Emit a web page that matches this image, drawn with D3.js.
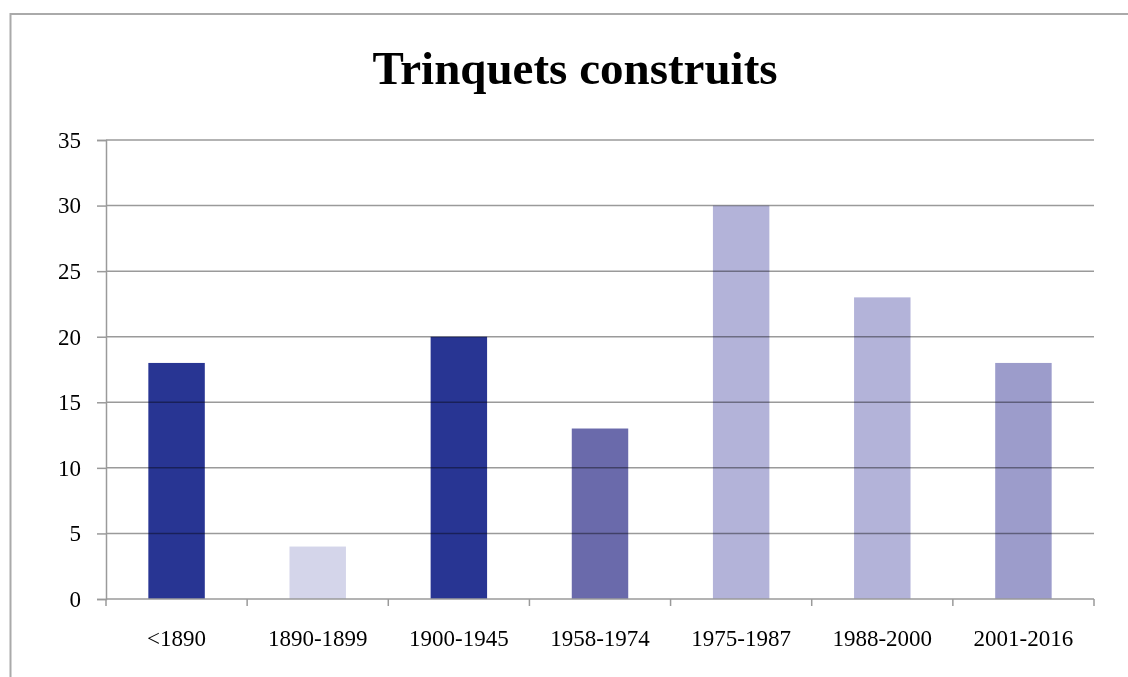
<!DOCTYPE html>
<html>
<head>
<meta charset="utf-8">
<script src="https://cdn.jsdelivr.net/npm/d3@7"></script>
<style>
  body { margin: 0; background: #fff; }
  svg { display: block; font-family: "Liberation Serif", "Times New Roman", serif; }
</style>
</head>
<body>
<div id="chart"></div>
<script>
var categories = ["<1890", "1890-1899", "1900-1945", "1958-1974", "1975-1987", "1988-2000", "2001-2016"];
var values = [18, 4, 20, 13, 30, 23, 18];
var barColors = ["#283593", "#d4d5ea", "#283593", "#6a6aab", "#b3b3d9", "#b3b3d9", "#9c9ccb"];
var yTicks = [0, 5, 10, 15, 20, 25, 30, 35];

var margin = {top: 140, left: 106},
    width = 988,
    height = 459;

var svg = d3.select("#chart")
  .append("svg")
    .attr("width", 1128)
    .attr("height", 677);

// outer frame
svg.append("rect")
  .attr("x", 10.5).attr("y", 14)
  .attr("width", 1130).attr("height", 680)
  .attr("fill", "none")
  .attr("stroke", "#aaa")
  .attr("stroke-width", 2);

svg.append("text")
  .attr("x", 575)
  .attr("y", 84)
  .attr("text-anchor", "middle")
  .style("font-size", "47px")
  .style("font-weight", "bold")
  .text("Trinquets construits");

var g = svg.append("g")
  .attr("transform", "translate(" + margin.left + "," + margin.top + ")");

var x = d3.scaleBand()
  .domain(categories)
  .range([0, width])
  .paddingInner(0.6)
  .paddingOuter(0.3);

var y = d3.scaleLinear()
  .domain([0, 35])
  .range([height, 0]);

// bars
g.selectAll("rect.bar")
  .data(values)
  .enter()
  .append("rect")
    .attr("class", "bar")
    .attr("x", function(d, i) { return x(categories[i]); })
    .attr("y", function(d) { return y(d); })
    .attr("width", x.bandwidth())
    .attr("height", function(d) { return height - y(d); })
    .attr("fill", function(d, i) { return barColors[i]; });

// gridlines over bars
g.selectAll("line.grid")
  .data(yTicks.slice(1))
  .enter()
  .append("line")
    .attr("class", "grid")
    .attr("x1", 0).attr("x2", width)
    .attr("y1", function(d) { return y(d); })
    .attr("y2", function(d) { return y(d); })
    .attr("stroke", "#9a9a9a")
    .attr("stroke-width", 1.5)
    .style("mix-blend-mode", "multiply");

// Y axis
var yAxis = g.append("g")
  .call(d3.axisLeft(y).tickValues(yTicks).tickSize(9).tickPadding(16));
yAxis.select(".domain").attr("stroke", "#9a9a9a").attr("stroke-width", 1.5);
yAxis.selectAll(".tick line").attr("stroke", "#9a9a9a").attr("stroke-width", 1.5);
yAxis.selectAll("text")
  .style("font-family", "Liberation Serif, serif")
  .style("font-size", "23px")
  .attr("fill", "#000");

// X axis
var xAxis = g.append("g")
  .attr("transform", "translate(0," + height + ")")
  .call(d3.axisBottom(x).tickSize(0).tickPadding(31));
xAxis.select(".domain").remove();
xAxis.selectAll("text")
  .style("font-family", "Liberation Serif, serif")
  .style("font-size", "23px")
  .attr("fill", "#000");

xAxis.append("line")
  .attr("x1", 0).attr("x2", width)
  .attr("stroke", "#9a9a9a").attr("stroke-width", 1.5);

// category separators
xAxis.selectAll("line.sep")
  .data(d3.range(categories.length + 1))
  .enter()
  .append("line")
    .attr("class", "sep")
    .attr("x1", function(i) { return i * x.step(); })
    .attr("x2", function(i) { return i * x.step(); })
    .attr("y1", 0).attr("y2", 7)
    .attr("stroke", "#9a9a9a").attr("stroke-width", 1.5);
</script>
</body>
</html>
